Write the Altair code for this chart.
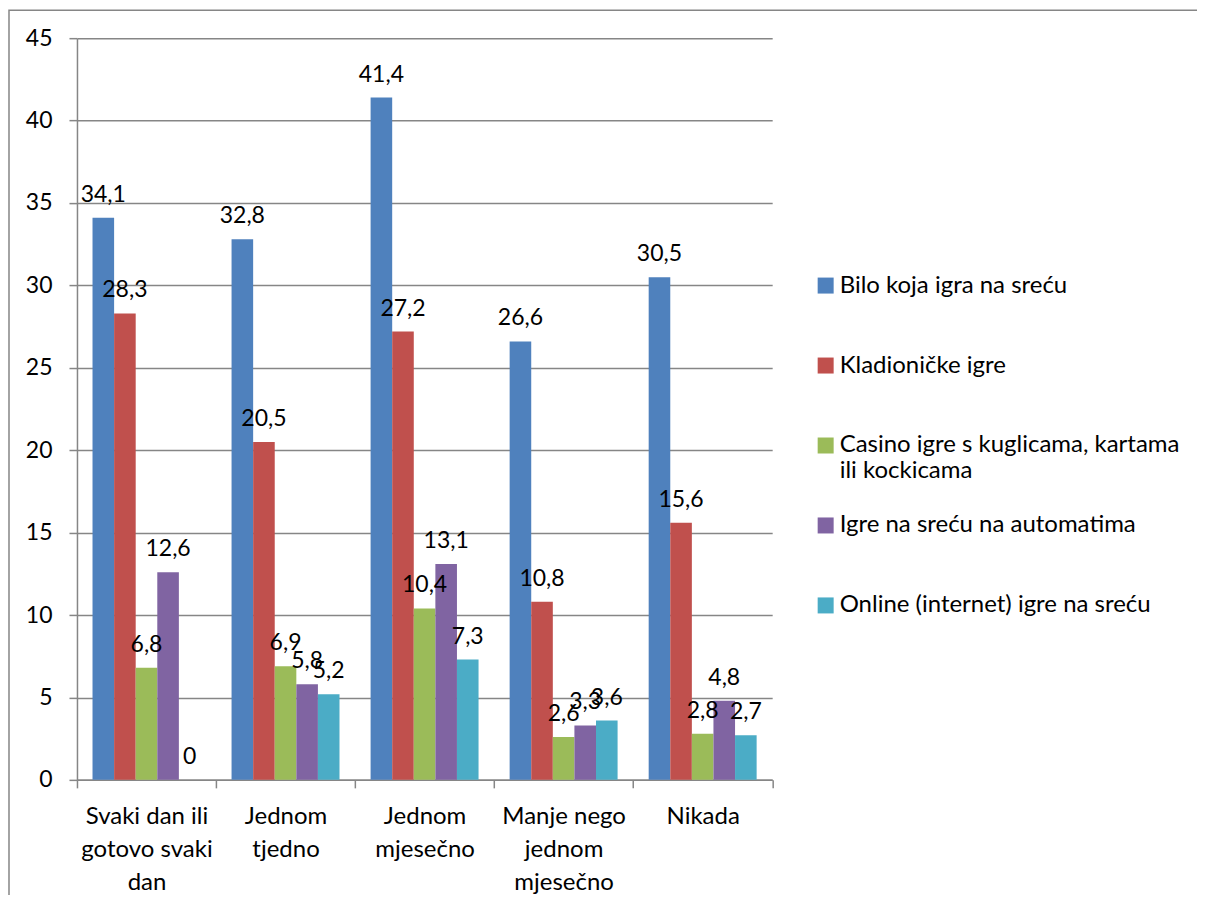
import altair as alt
import pandas as pd

categories = ["Svaki dan ili gotovo svaki dan", "Jednom tjedno", "Jednom mjesečno",
              "Manje nego jednom mjesečno", "Nikada"]
category_lines = {
    "Svaki dan ili gotovo svaki dan": ["Svaki dan ili", "gotovo svaki", "dan"],
    "Jednom tjedno": ["Jednom", "tjedno"],
    "Jednom mjesečno": ["Jednom", "mjesečno"],
    "Manje nego jednom mjesečno": ["Manje nego", "jednom", "mjesečno"],
    "Nikada": ["Nikada"],
}
series = ["Bilo koja igra na sreću", "Kladioničke igre",
          "Casino igre s kuglicama, kartama ili kockicama",
          "Igre na sreću na automatima", "Online (internet) igre na sreću"]
series_lines = {
    "Casino igre s kuglicama, kartama ili kockicama": ["Casino igre s kuglicama, kartama", "ili kockicama"],
}
bilo_koja = [34.1, 32.8, 41.4, 26.6, 30.5]
kladionicke = [28.3, 20.5, 27.2, 10.8, 15.6]
casino = [6.8, 6.9, 10.4, 2.6, 2.8]
automati = [12.6, 5.8, 13.1, 3.3, 4.8]
online = [0, 5.2, 7.3, 3.6, 2.7]
colors = ["#4F81BD", "#C0504D", "#9BBB59", "#8064A2", "#4BACC6"]
y_ticks = [0, 5, 10, 15, 20, 25, 30, 35, 40, 45]

rows = []
for s, vals in zip(series, [bilo_koja, kladionicke, casino, automati, online]):
    for c, v in zip(categories, vals):
        rows.append({"category": c, "series": s, "value": v,
                     "label": f"{v:g}".replace(".", ",")})
df = pd.DataFrame(rows)


def js_list(items):
    return "[" + ", ".join("'" + t + "'" for t in items) + "]"


x_label_expr = ""
for c in categories:
    x_label_expr += f"datum.value == '{c}' ? {js_list(category_lines[c])} : "
x_label_expr += "datum.value"

legend_label_expr = ""
for s, lines in series_lines.items():
    legend_label_expr += f"datum.label == '{s}' ? {js_list(lines)} : "
legend_label_expr += "datum.label"

FONT = "Lato"
GRID = "#868686"

x_enc = alt.X("category:N", sort=categories,
              scale=alt.Scale(paddingInner=0, paddingOuter=0),
              axis=alt.Axis(title=None, labelAngle=0, labelExpr=x_label_expr,
                            labelLineHeight=33, labelBaseline="top", labelPadding=17,
                            tickSize=8, tickBand="extent", tickColor=GRID, tickWidth=1.5,
                            domainColor=GRID, domainWidth=1.5, grid=False,
                            labelFont=FONT, labelFontSize=24, labelColor="#000000"))
xoff_enc = alt.XOffset("series:N", sort=series,
                       scale=alt.Scale(paddingInner=0, paddingOuter=0.72))
y_enc = alt.Y("value:Q", scale=alt.Scale(domain=[0, 45], nice=False),
              axis=alt.Axis(title=None, values=y_ticks, tickSize=8, tickColor=GRID,
                            tickWidth=1.5, domainColor=GRID, domainWidth=1.5,
                            grid=True, gridColor=GRID, gridWidth=1.5, labelPadding=17,
                            labelFont=FONT, labelFontSize=23, labelColor="#000000"))

bars = alt.Chart(df).mark_bar().encode(
    x=x_enc, xOffset=xoff_enc, y=y_enc,
    color=alt.Color("series:N", sort=series,
                    scale=alt.Scale(domain=series, range=colors),
                    legend=alt.Legend(title=None, orient="none", legendX=737, legendY=235.5,
                                      symbolType="square", symbolSize=256,
                                      symbolStrokeWidth=0, labelFont=FONT,
                                      labelFontSize=24, labelColor="#000000",
                                      labelLimit=440, labelOffset=2,
                                      labelExpr=legend_label_expr,
                                      gridAlign="all", rowPadding=30, padding=0)),
)

labels = alt.Chart(df).mark_text(baseline="alphabetic", dy=-16, font=FONT,
                                 fontSize=23, color="#000000").encode(
    x=x_enc, xOffset=xoff_enc, y=y_enc, text="label:N")

frame = alt.Chart(alt.Data(values=[{"f": 1}])).mark_rect(
    filled=False, stroke=GRID, strokeWidth=1.5).encode(
    x=alt.value(-68), x2=alt.value(1200), y=alt.value(-28), y2=alt.value(900))

chart = alt.layer(frame, bars, labels).properties(
    width=695.5, height=742,
    autosize=alt.AutoSizeParams(type="none"),
    padding={"left": 69, "top": 30, "right": 425, "bottom": 115},
).configure_view(stroke=None)

chart.save("out.html", embed_options={"renderer": "svg", "actions": False})
